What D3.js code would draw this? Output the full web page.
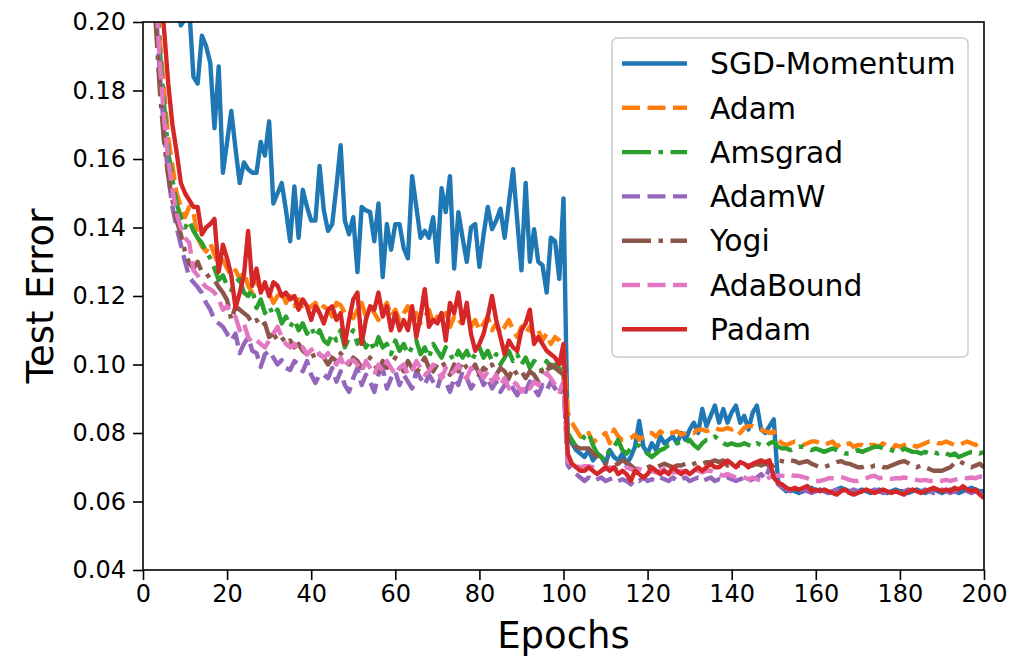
<!DOCTYPE html>
<html>
<head>
<meta charset="utf-8">
<script src="https://cdn.jsdelivr.net/npm/d3@7"></script>
<style>
  body { margin: 0; background: #fff; }
  text { font-family: "DejaVu Sans", sans-serif; fill: #000; }
</style>
</head>
<body>
<div id="chart"></div>
<script>
// test error per epoch (epochs 1..200)
const sgd = [
  0.400, 0.320, 0.280, 0.250, 0.235, 0.225, 0.215, 0.208, 0.199, 0.201,
  0.204, 0.184, 0.182, 0.196, 0.193, 0.188, 0.169, 0.187, 0.156, 0.165,
  0.174, 0.163, 0.153, 0.159, 0.157, 0.156, 0.156, 0.165, 0.161, 0.171,
  0.147, 0.150, 0.153, 0.145, 0.136, 0.152, 0.137, 0.151, 0.146, 0.142,
  0.142, 0.158, 0.145, 0.139, 0.141, 0.152, 0.164, 0.142, 0.138, 0.143,
  0.127, 0.146, 0.145, 0.1445, 0.136, 0.147, 0.1255, 0.141, 0.1335, 0.141,
  0.141, 0.134, 0.131, 0.155, 0.146, 0.137, 0.139, 0.137, 0.143, 0.130,
  0.1515, 0.1445, 0.155, 0.128, 0.1445, 0.137, 0.130, 0.140, 0.141, 0.1285,
  0.138, 0.146, 0.1395, 0.142, 0.1455, 0.137, 0.147, 0.157, 0.142, 0.1275,
  0.153, 0.130, 0.1395, 0.130, 0.129, 0.121, 0.137, 0.136, 0.125, 0.1485,
  0.079, 0.077, 0.075, 0.074, 0.073, 0.075, 0.072, 0.074, 0.073, 0.071,
  0.075, 0.073, 0.072, 0.074, 0.071, 0.073, 0.076, 0.0835, 0.076, 0.074,
  0.077, 0.075, 0.079, 0.077, 0.078, 0.079, 0.077, 0.080, 0.078, 0.081,
  0.083, 0.080, 0.087, 0.082, 0.085, 0.088, 0.083, 0.087, 0.083, 0.086,
  0.088, 0.083, 0.085, 0.081, 0.086, 0.088, 0.081, 0.080, 0.082, 0.084,
  0.066, 0.064, 0.063, 0.0635, 0.063, 0.0625, 0.063, 0.0635, 0.064, 0.063,
  0.0635, 0.063, 0.0625, 0.063, 0.0635, 0.064, 0.0635, 0.063, 0.0625, 0.063,
  0.0635, 0.063, 0.0625, 0.063, 0.0635, 0.063, 0.0625, 0.063, 0.0635, 0.063,
  0.063, 0.0625, 0.063, 0.0635, 0.063, 0.0625, 0.063, 0.0635, 0.063, 0.0625,
  0.063, 0.0635, 0.063, 0.0625, 0.063, 0.0635, 0.064, 0.0635, 0.063, 0.063
];

const adam = [
  0.330, 0.260, 0.215, 0.195, 0.180, 0.166, 0.158, 0.150, 0.146, 0.143,
  0.146, 0.1445, 0.137, 0.1345, 0.133, 0.1355, 0.132, 0.129, 0.1305, 0.128,
  0.126, 0.1275, 0.125, 0.127, 0.123, 0.121, 0.124, 0.122, 0.1226, 0.121,
  0.118, 0.120, 0.121, 0.118, 0.120, 0.117, 0.119, 0.116, 0.116, 0.117,
  0.118, 0.115, 0.117, 0.116, 0.114, 0.118, 0.1173, 0.115, 0.116, 0.1135,
  0.116, 0.118, 0.114, 0.117, 0.115, 0.113, 0.116, 0.118, 0.114, 0.116,
  0.113, 0.115, 0.117, 0.113, 0.115, 0.112, 0.114, 0.116, 0.112, 0.114,
  0.113, 0.115, 0.111, 0.114, 0.112, 0.113, 0.115, 0.111, 0.113, 0.110,
  0.112, 0.114, 0.110, 0.112, 0.109, 0.111, 0.113, 0.110, 0.108, 0.111,
  0.109, 0.111, 0.108, 0.110, 0.107, 0.109, 0.106, 0.108, 0.107, 0.105,
  0.086, 0.083, 0.081, 0.079, 0.0785, 0.080, 0.077, 0.0785, 0.079, 0.080,
  0.077, 0.081, 0.079, 0.078, 0.078, 0.0785, 0.0795, 0.078, 0.079, 0.080,
  0.080, 0.079, 0.0805, 0.0795, 0.080, 0.080, 0.0805, 0.0795, 0.080, 0.0805,
  0.080, 0.081, 0.081, 0.0805, 0.081, 0.0815, 0.081, 0.081, 0.0815, 0.081,
  0.0815, 0.080, 0.0815, 0.082, 0.082, 0.0815, 0.081, 0.0805, 0.080, 0.0805,
  0.078, 0.077, 0.0765, 0.077, 0.0775, 0.077, 0.0765, 0.077, 0.0775, 0.0775,
  0.077, 0.0765, 0.077, 0.0775, 0.076, 0.077, 0.0765, 0.077, 0.076, 0.0765,
  0.0765, 0.076, 0.0765, 0.0765, 0.076, 0.077, 0.076, 0.075, 0.0765, 0.076,
  0.0765, 0.077, 0.0765, 0.076, 0.0765, 0.077, 0.0775, 0.0775, 0.077, 0.077,
  0.0775, 0.077, 0.0765, 0.0765, 0.077, 0.0775, 0.077, 0.0765, 0.0775, 0.078
];

const amsgrad = [
  0.320, 0.255, 0.212, 0.192, 0.176, 0.162, 0.154, 0.147, 0.143, 0.140,
  0.142, 0.139, 0.137, 0.1355, 0.133, 0.131, 0.128, 0.1247, 0.126, 0.123,
  0.1217, 0.124, 0.125, 0.121, 0.120, 0.122, 0.1165, 0.119, 0.115, 0.117,
  0.1144, 0.116, 0.112, 0.114, 0.111, 0.113, 0.110, 0.112, 0.109, 0.111,
  0.108, 0.110, 0.107, 0.106, 0.109, 0.107, 0.110, 0.105, 0.108, 0.110,
  0.106, 0.108, 0.105, 0.107, 0.104, 0.108, 0.105, 0.106, 0.103, 0.107,
  0.104, 0.106, 0.103, 0.105, 0.107, 0.103, 0.105, 0.102, 0.106, 0.104,
  0.102, 0.105, 0.103, 0.101, 0.104, 0.102, 0.104, 0.101, 0.103, 0.105,
  0.102, 0.104, 0.101, 0.103, 0.100, 0.102, 0.104, 0.101, 0.103, 0.100,
  0.102, 0.099, 0.101, 0.100, 0.098, 0.101, 0.099, 0.100, 0.098, 0.101,
  0.080, 0.078, 0.076, 0.077, 0.079, 0.080, 0.0765, 0.074, 0.073, 0.072,
  0.0755, 0.076, 0.078, 0.075, 0.074, 0.0755, 0.0765, 0.0763, 0.075, 0.074,
  0.073, 0.074, 0.075, 0.0755, 0.0765, 0.0763, 0.077, 0.0775, 0.077, 0.078,
  0.0765, 0.0755, 0.077, 0.078, 0.078, 0.079, 0.078, 0.077, 0.0765, 0.077,
  0.0765, 0.0765, 0.077, 0.0765, 0.076, 0.077, 0.0765, 0.076, 0.077, 0.0775,
  0.076, 0.0755, 0.0755, 0.075, 0.0755, 0.076, 0.076, 0.0755, 0.075, 0.0755,
  0.075, 0.0745, 0.075, 0.0755, 0.075, 0.0745, 0.074, 0.074, 0.0745, 0.075,
  0.0745, 0.075, 0.0755, 0.076, 0.076, 0.0755, 0.0755, 0.075, 0.0745, 0.0745,
  0.0755, 0.075, 0.0745, 0.0745, 0.074, 0.0745, 0.074, 0.0745, 0.074, 0.0745,
  0.074, 0.0735, 0.074, 0.073, 0.0735, 0.074, 0.0745, 0.0745, 0.074, 0.0745
];

const adamw = [
  0.310, 0.245, 0.205, 0.185, 0.168, 0.155, 0.146, 0.140, 0.135, 0.130,
  0.1255, 0.124, 0.1226, 0.1209, 0.118, 0.116, 0.113, 0.112, 0.111, 0.109,
  0.107, 0.109, 0.1033, 0.106, 0.108, 0.104, 0.1033, 0.0993, 0.103, 0.104,
  0.102, 0.100, 0.1013, 0.099, 0.0984, 0.101, 0.100, 0.098, 0.101, 0.097,
  0.0946, 0.097, 0.097, 0.096, 0.099, 0.095, 0.098, 0.094, 0.092, 0.096,
  0.099, 0.094, 0.097, 0.095, 0.092, 0.097, 0.099, 0.093, 0.096, 0.098,
  0.094, 0.097, 0.095, 0.093, 0.098, 0.096, 0.094, 0.097, 0.095, 0.093,
  0.097, 0.095, 0.092, 0.096, 0.094, 0.098, 0.096, 0.093, 0.095, 0.097,
  0.094, 0.096, 0.093, 0.095, 0.092, 0.094, 0.096, 0.093, 0.091, 0.094,
  0.092, 0.095, 0.093, 0.091, 0.094, 0.0925, 0.095, 0.093, 0.091, 0.094,
  0.0706, 0.069, 0.068, 0.067, 0.066, 0.067, 0.066, 0.0665, 0.067, 0.066,
  0.0665, 0.067, 0.066, 0.0665, 0.066, 0.065, 0.0665, 0.066, 0.067, 0.066,
  0.0665, 0.066, 0.067, 0.0665, 0.066, 0.067, 0.066, 0.0665, 0.067, 0.066,
  0.0665, 0.067, 0.066, 0.0665, 0.067, 0.066, 0.0665, 0.066, 0.067, 0.0665,
  0.066, 0.0665, 0.067, 0.066, 0.0665, 0.067, 0.068, 0.0665, 0.070, 0.068,
  0.065, 0.064, 0.0635, 0.063, 0.0635, 0.063, 0.0635, 0.063, 0.0625, 0.063,
  0.0635, 0.063, 0.0625, 0.063, 0.0635, 0.063, 0.0625, 0.063, 0.0635, 0.063,
  0.063, 0.0625, 0.063, 0.0635, 0.063, 0.0625, 0.063, 0.0635, 0.063, 0.0625,
  0.063, 0.0635, 0.063, 0.0625, 0.063, 0.0635, 0.063, 0.0625, 0.063, 0.0635,
  0.063, 0.0625, 0.063, 0.063, 0.0635, 0.063, 0.0625, 0.063, 0.0625, 0.063
];

const yogi = [
  0.300, 0.235, 0.200, 0.180, 0.165, 0.155, 0.148, 0.142, 0.138, 0.133,
  0.1296, 0.128, 0.130, 0.127, 0.1267, 0.125, 0.1247, 0.1226, 0.121, 0.1188,
  0.113, 0.117, 0.116, 0.115, 0.114, 0.112, 0.113, 0.111, 0.112, 0.108,
  0.109, 0.107, 0.108, 0.106, 0.107, 0.105, 0.106, 0.104, 0.103, 0.104,
  0.1013, 0.103, 0.102, 0.100, 0.102, 0.101, 0.1033, 0.101, 0.100, 0.102,
  0.101, 0.099, 0.100, 0.102, 0.100, 0.098, 0.101, 0.099, 0.100, 0.102,
  0.100, 0.098, 0.101, 0.099, 0.097, 0.100, 0.102, 0.099, 0.098, 0.100,
  0.101, 0.099, 0.097, 0.100, 0.098, 0.101, 0.099, 0.098, 0.100, 0.097,
  0.099, 0.098, 0.100, 0.097, 0.099, 0.098, 0.096, 0.099, 0.097, 0.098,
  0.096, 0.098, 0.097, 0.095, 0.099, 0.098, 0.100, 0.099, 0.098, 0.097,
  0.078, 0.0765, 0.076, 0.0755, 0.0755, 0.0755, 0.074, 0.073, 0.072, 0.071,
  0.0705, 0.0705, 0.071, 0.072, 0.0715, 0.0705, 0.0695, 0.0695, 0.0695, 0.070,
  0.0705, 0.070, 0.0705, 0.071, 0.0705, 0.070, 0.0705, 0.0705, 0.071, 0.0705,
  0.071, 0.0715, 0.071, 0.0715, 0.0715, 0.072, 0.0715, 0.072, 0.0705, 0.071,
  0.0705, 0.0705, 0.071, 0.0705, 0.0705, 0.071, 0.0705, 0.071, 0.0705, 0.0705,
  0.072, 0.0718, 0.0715, 0.072, 0.0718, 0.0712, 0.0715, 0.0718, 0.071, 0.0705,
  0.070, 0.070, 0.0705, 0.071, 0.0715, 0.0718, 0.0712, 0.071, 0.0705, 0.070,
  0.070, 0.0705, 0.070, 0.0705, 0.0705, 0.070, 0.070, 0.0705, 0.071, 0.0715,
  0.0718, 0.0712, 0.0705, 0.070, 0.0705, 0.070, 0.0695, 0.069, 0.069, 0.069,
  0.0695, 0.070, 0.0712, 0.0718, 0.0712, 0.0705, 0.070, 0.0705, 0.071, 0.070
];

const adabound = [
  0.315, 0.250, 0.210, 0.188, 0.172, 0.160, 0.151, 0.144, 0.140, 0.137,
  0.1355, 0.1275, 0.126, 0.124, 0.1226, 0.122, 0.121, 0.119, 0.116, 0.117,
  0.115, 0.1139, 0.110, 0.112, 0.108, 0.1063, 0.107, 0.106, 0.105, 0.107,
  0.109, 0.111, 0.108, 0.106, 0.105, 0.106, 0.104, 0.105, 0.103, 0.1042,
  0.105, 0.103, 0.102, 0.1033, 0.101, 0.100, 0.102, 0.099, 0.101, 0.1013,
  0.100, 0.098, 0.101, 0.099, 0.097, 0.100, 0.098, 0.101, 0.099, 0.097,
  0.099, 0.100, 0.097, 0.098, 0.101, 0.099, 0.097, 0.098, 0.100, 0.098,
  0.096, 0.099, 0.097, 0.098, 0.100, 0.097, 0.096, 0.099, 0.097, 0.098,
  0.096, 0.098, 0.095, 0.097, 0.094, 0.096, 0.093, 0.095, 0.094, 0.092,
  0.094, 0.093, 0.095, 0.094, 0.096, 0.0975, 0.096, 0.094, 0.092, 0.095,
  0.072, 0.0705, 0.0703, 0.070, 0.0703, 0.0703, 0.070, 0.0695, 0.069, 0.0695,
  0.070, 0.0695, 0.070, 0.0695, 0.070, 0.0695, 0.069, 0.0695, 0.069, 0.0685,
  0.069, 0.0685, 0.069, 0.0695, 0.069, 0.0685, 0.0685, 0.069, 0.0685, 0.069,
  0.0695, 0.069, 0.0685, 0.069, 0.069, 0.0685, 0.068, 0.0675, 0.068, 0.0675,
  0.067, 0.0675, 0.067, 0.0665, 0.067, 0.0665, 0.066, 0.0665, 0.067, 0.0675,
  0.0676, 0.0675, 0.0673, 0.0678, 0.0675, 0.0675, 0.0671, 0.0668, 0.0663, 0.066,
  0.066, 0.0663, 0.0668, 0.0668, 0.0668, 0.0671, 0.0668, 0.0663, 0.066, 0.066,
  0.0663, 0.0668, 0.0673, 0.0675, 0.0668, 0.067, 0.0668, 0.0666, 0.0668, 0.0668,
  0.067, 0.0668, 0.0666, 0.0663, 0.0661, 0.0663, 0.066, 0.066, 0.0663, 0.066,
  0.0663, 0.066, 0.0663, 0.0668, 0.067, 0.0668, 0.067, 0.0668, 0.0673, 0.0672
];

const padam = [
  0.350, 0.280, 0.240, 0.212, 0.198, 0.182, 0.170, 0.162, 0.153, 0.150,
  0.148, 0.146, 0.146, 0.138, 0.140, 0.141, 0.1425, 0.127, 0.135, 0.131,
  0.126, 0.1165, 0.121, 0.126, 0.139, 0.123, 0.128, 0.121, 0.124, 0.120,
  0.124, 0.123, 0.120, 0.121, 0.119, 0.120, 0.116, 0.119, 0.117, 0.113,
  0.117, 0.115, 0.112, 0.116, 0.117, 0.113, 0.115, 0.106, 0.113, 0.119,
  0.121, 0.106, 0.113, 0.117, 0.116, 0.121, 0.114, 0.117, 0.110, 0.115,
  0.110, 0.113, 0.110, 0.117, 0.108, 0.114, 0.122, 0.111, 0.113, 0.112,
  0.115, 0.107, 0.118, 0.115, 0.121, 0.112, 0.118, 0.109, 0.104, 0.106,
  0.109, 0.114, 0.120, 0.113, 0.108, 0.103, 0.107, 0.105, 0.104, 0.110,
  0.112, 0.116, 0.106, 0.108, 0.106, 0.104, 0.103, 0.102, 0.100, 0.106,
  0.074, 0.071, 0.070, 0.069, 0.069, 0.070, 0.069, 0.068, 0.069, 0.070,
  0.069, 0.070, 0.068, 0.069, 0.068, 0.066, 0.069, 0.068, 0.067, 0.068,
  0.070, 0.069, 0.068, 0.069, 0.068, 0.070, 0.069, 0.068, 0.069, 0.068,
  0.069, 0.070, 0.069, 0.070, 0.071, 0.070, 0.070, 0.071, 0.072, 0.071,
  0.070, 0.0715, 0.071, 0.070, 0.071, 0.0715, 0.072, 0.0715, 0.072, 0.067,
  0.0655, 0.065, 0.064, 0.0635, 0.064, 0.0635, 0.064, 0.0645, 0.063, 0.0635,
  0.063, 0.0635, 0.063, 0.0625, 0.062, 0.063, 0.0635, 0.0625, 0.062, 0.0625,
  0.063, 0.0635, 0.063, 0.0625, 0.063, 0.0635, 0.063, 0.0625, 0.063, 0.0625,
  0.062, 0.063, 0.0635, 0.063, 0.0625, 0.063, 0.0635, 0.064, 0.0635, 0.063,
  0.0635, 0.063, 0.064, 0.0635, 0.0645, 0.0635, 0.063, 0.0635, 0.062, 0.061
];

const seriesNames = ["SGD-Momentum", "Adam", "Amsgrad", "AdamW", "Yogi", "AdaBound", "Padam"];
const seriesValues = [sgd, adam, amsgrad, adamw, yogi, adabound, padam];
const colors = ["#1f77b4", "#ff7f0e", "#2ca02c", "#9467bd", "#8c564b", "#e377c2", "#d62728"];
const dashes = [null, "18,7.5", "29,7.5,4.5,7.5", "18,7.5", "29,7.5,4.5,7.5", "18,7.5", null];

const xTicks = [0, 20, 40, 60, 80, 100, 120, 140, 160, 180, 200];
const yTicks = [0.04, 0.06, 0.08, 0.10, 0.12, 0.14, 0.16, 0.18, 0.20];

const width = 1009, height = 656;
const margin = {left: 143, right: 25, top: 22, bottom: 86};

const svg = d3.select("#chart").append("svg")
  .attr("width", width)
  .attr("height", height);

const x = d3.scaleLinear().domain([0, 200]).range([margin.left, width - margin.right]);
const y = d3.scaleLinear().domain([0.04, 0.20]).range([height - margin.bottom, margin.top]);

svg.append("clipPath").attr("id", "plot-clip")
  .append("rect")
  .attr("x", x(0)).attr("y", y(0.20))
  .attr("width", x(200) - x(0)).attr("height", y(0.04) - y(0.20));

const line = d3.line()
  .x((d, i) => x(i + 1))
  .y(d => y(d));

const lines = svg.append("g").attr("clip-path", "url(#plot-clip)");
seriesValues.forEach((vals, k) => {
  lines.append("path")
    .datum(vals)
    .attr("d", line)
    .attr("fill", "none")
    .attr("stroke", colors[k])
    .attr("stroke-width", 4.4)
    .attr("stroke-linejoin", "round")
    .attr("stroke-dasharray", dashes[k]);
});

// axes
const xAxis = svg.append("g")
  .attr("transform", `translate(0,${y(0.04)})`)
  .call(d3.axisBottom(x).tickValues(xTicks).tickSize(10).tickSizeOuter(0).tickPadding(5));
const yAxis = svg.append("g")
  .attr("transform", `translate(${x(0)},0)`)
  .call(d3.axisLeft(y).tickValues(yTicks).tickFormat(d3.format(".2f")).tickSize(10).tickSizeOuter(0).tickPadding(7));

[xAxis, yAxis].forEach(g => {
  g.select(".domain").remove();
  g.selectAll(".tick line").attr("stroke", "#000").attr("stroke-width", 1.6);
  g.selectAll(".tick text").style("font-size", "24px").attr("fill", "#000");
});

svg.append("rect")
  .attr("x", x(0)).attr("y", y(0.20))
  .attr("width", x(200) - x(0)).attr("height", y(0.04) - y(0.20))
  .attr("fill", "none")
  .attr("stroke", "#000")
  .attr("stroke-width", 1.6);

svg.append("text")
  .attr("x", (x(0) + x(200)) / 2)
  .attr("y", 648)
  .attr("text-anchor", "middle")
  .style("font-size", "37px")
  .text("Epochs");

svg.append("text")
  .attr("transform", `translate(53,${(y(0.04) + y(0.20)) / 2}) rotate(-90)`)
  .attr("text-anchor", "middle")
  .style("font-size", "37px")
  .text("Test Error");

// legend
const legend = svg.append("g").attr("transform", "translate(612,38)");
legend.append("rect")
  .attr("width", 356).attr("height", 319)
  .attr("rx", 5)
  .attr("fill", "#fff").attr("fill-opacity", 0.8)
  .attr("stroke", "#cccccc").attr("stroke-width", 1.5);

seriesNames.forEach((name, k) => {
  const ry = 25.5 + k * 44.3;
  legend.append("line")
    .attr("x1", 10).attr("x2", 75)
    .attr("y1", ry).attr("y2", ry)
    .attr("stroke", colors[k])
    .attr("stroke-width", 4.4)
    .attr("stroke-dasharray", dashes[k]);
  legend.append("text")
    .attr("x", 98).attr("y", ry)
    .attr("dy", "0.36em")
    .style("font-size", "29.8px")
    .text(name);
});
</script>
</body>
</html>
